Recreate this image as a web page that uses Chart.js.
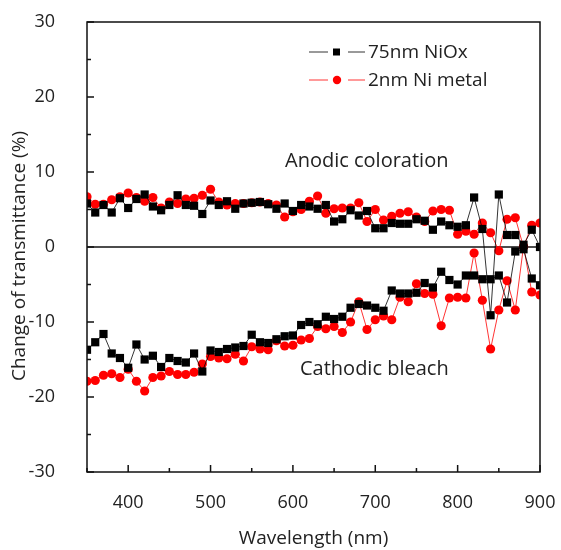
<!DOCTYPE html>
<html>
<head>
<meta charset="utf-8">
<script src="https://cdn.jsdelivr.net/npm/chart.js@4.4.1/dist/chart.umd.min.js"></script>
<style>
  html, body { margin: 0; padding: 0; background: #fff; }
  #wrap { width: 561px; height: 550px; }
</style>
</head>
<body>
<div id="wrap"><canvas id="chart"></canvas></div>
<script>
// wavelength (nm), one point every 10 nm
var wavelength = [350, 360, 370, 380, 390, 400, 410, 420, 430, 440,
                  450, 460, 470, 480, 490, 500, 510, 520, 530, 540,
                  550, 560, 570, 580, 590, 600, 610, 620, 630, 640,
                  650, 660, 670, 680, 690, 700, 710, 720, 730, 740,
                  750, 760, 770, 780, 790, 800, 810, 820, 830, 840,
                  850, 860, 870, 880, 890, 900];

// 75nm NiOx, change of transmittance (%)
var niox_anodic = [5.8, 4.6, 5.6, 4.6, 6.5, 5.2, 6.4, 7.0, 5.4, 4.9,
                   5.6, 6.9, 5.6, 5.5, 4.4, 6.2, 5.6, 6.1, 5.1, 5.8,
                   5.9, 6.0, 5.7, 5.1, 5.8, 4.8, 5.6, 5.4, 5.1, 5.6,
                   3.4, 3.7, 4.9, 4.2, 4.8, 2.5, 2.5, 3.2, 3.1, 3.1,
                   3.7, 3.5, 2.3, 3.4, 2.9, 2.7, 2.9, 6.6, 2.4, -9.1,
                   7.0, 1.6, 1.6, 0.3, 2.3, 0.0];
var niox_cathodic = [-13.7, -12.7, -11.6, -14.2, -14.8, -16.1, -13.0, -15.0, -14.5, -16.0,
                     -14.8, -15.2, -15.4, -14.2, -16.6, -13.8, -14.0, -13.6, -13.4, -13.2,
                     -11.7, -12.7, -12.8, -12.3, -11.9, -11.8, -10.4, -10.0, -10.3, -9.3,
                     -9.6, -9.3, -8.1, -7.6, -7.8, -8.1, -8.5, -5.8, -6.2, -6.2,
                     -6.1, -4.8, -5.4, -3.3, -4.4, -5.0, -3.8, -3.8, -4.3, -4.3,
                     -3.8, -7.4, -0.6, -0.3, -4.2, -5.1];

// 2nm Ni metal
var ni_anodic = [6.7, 5.7, 5.7, 6.3, 6.7, 7.2, 6.6, 6.1, 6.6, 5.2,
                 6.0, 5.8, 6.4, 6.5, 6.9, 7.7, 6.0, 5.6, 5.8, 5.8,
                 5.9, 6.0, 5.8, 5.6, 4.0, 4.7, 5.0, 6.1, 6.8, 4.5,
                 5.1, 5.2, 5.2, 5.9, 3.4, 5.0, 3.6, 4.1, 4.5, 4.7,
                 4.0, 3.4, 4.8, 5.0, 4.9, 1.7, 2.1, 1.7, 3.2, 1.9,
                 -0.5, 3.7, 3.9, 0.0, 2.9, 3.2];
var ni_cathodic = [-17.9, -17.8, -17.1, -16.9, -17.4, -16.3, -17.9, -19.2, -17.4, -17.2,
                   -16.6, -17.0, -17.0, -16.7, -15.6, -14.6, -14.8, -14.9, -14.3, -15.2,
                   -13.3, -13.6, -13.7, -12.5, -13.2, -13.1, -12.4, -12.2, -10.6, -10.9,
                   -10.6, -11.4, -10.0, -7.3, -11.0, -9.7, -9.2, -9.7, -6.7, -7.3,
                   -4.9, -6.2, -6.3, -10.5, -6.8, -6.7, -6.8, -0.8, -7.1, -13.6,
                   -8.4, -4.5, -8.4, 0.1, -6.0, -6.4];

var xTicks = [400, 500, 600, 700, 800, 900];
var yTicks = [-30, -20, -10, 0, 10, 20, 30];
var seriesNames = ['75nm NiOx', '2nm Ni metal'];
var notes = ['Anodic coloration', 'Cathodic bleach'];
var yTitle = 'Change of transmittance (%)';

var FONT = '"Open Sans", "Noto Sans", sans-serif';
var TXT = '#222';

function pts(ys) {
    return wavelength.map(function (x, i) { return {x: x, y: ys[i]}; });
}

function series(ys, color, style, radius) {
    return {
        data: pts(ys),
        showLine: true,
        borderColor: color,
        borderWidth: 0.8,
        backgroundColor: color,
        pointBackgroundColor: color,
        pointBorderColor: color,
        pointBorderWidth: 0,
        pointStyle: style,
        pointRadius: radius,
        pointHoverRadius: radius,
        tension: 0
    };
}

// box, inward ticks, zero line, legend, notes, y title
var decor = {
    id: 'decor',
    beforeDatasetsDraw: function (chart) {
        var c = chart.ctx, a = chart.chartArea, y = chart.scales.y;
        var y0 = y.getPixelForValue(0);
        c.save();
        c.strokeStyle = '#111';
        c.lineWidth = 1.5;
        c.beginPath();
        c.moveTo(a.left, y0);
        c.lineTo(a.right, y0);
        c.stroke();
        c.restore();
    },
    afterDraw: function (chart) {
        var c = chart.ctx, a = chart.chartArea;
        var xs = chart.scales.x, ys = chart.scales.y;
        c.save();
        c.strokeStyle = '#111';
        c.lineWidth = 1.5;
        c.strokeRect(a.left, a.top, a.right - a.left, a.bottom - a.top);
        c.beginPath();
        for (var v = -30; v <= 30; v += 5) {
            var py = ys.getPixelForValue(v);
            var len = (v % 10 === 0) ? 7 : 4;
            c.moveTo(a.left, py); c.lineTo(a.left + len, py);
        }
        for (var w = 350; w <= 900; w += 50) {
            var px = xs.getPixelForValue(w);
            var l2 = (w % 100 === 0) ? 7 : 4;
            c.moveTo(px, a.bottom); c.lineTo(px, a.bottom - l2);
        }
        c.stroke();

        // legend
        var rows = [
            {name: seriesNames[0], color: '#000', style: 'rect', y: 52},
            {name: seriesNames[1], color: '#f00', style: 'circle', y: 80}
        ];
        c.font = '19px ' + FONT;
        c.textBaseline = 'middle';
        c.textAlign = 'left';
        rows.forEach(function (r) {
            c.strokeStyle = r.color;
            c.lineWidth = 0.8;
            c.beginPath();
            c.moveTo(309, r.y); c.lineTo(328, r.y);
            c.moveTo(348, r.y); c.lineTo(365, r.y);
            c.stroke();
            c.fillStyle = r.color;
            if (r.style === 'rect') {
                c.fillRect(333, r.y - 3.5, 7, 7);
            } else {
                c.beginPath();
                c.arc(337, r.y, 4.2, 0, Math.PI * 2);
                c.fill();
            }
            c.fillStyle = TXT;
            c.fillText(r.name, 368, r.y + 1);
        });

        c.font = '20px ' + FONT;
        c.fillStyle = TXT;
        c.fillText(notes[0], 285, 161);
        c.fillText(notes[1], 300, 369);

        // y axis title
        c.font = '19px ' + FONT;
        c.textAlign = 'center';
        c.translate(20, 256);
        c.rotate(-Math.PI / 2);
        c.fillText(yTitle, 0, 0);
        c.restore();
    }
};

var ctx = document.getElementById('chart').getContext('2d');
var chart = new Chart(ctx, {
    type: 'scatter',
    data: {
        datasets: [
            series(niox_anodic, '#000', 'rect', 5.8),
            series(niox_cathodic, '#000', 'rect', 5.8),
            series(ni_anodic, '#f00', 'circle', 4.6),
            series(ni_cathodic, '#f00', 'circle', 4.6)
        ]
    },
    options: {
        responsive: true,
        maintainAspectRatio: false,
        animation: false,
        events: [],
        layout: {
            padding: {top: 22, right: 21, left: 0, bottom: 0}
        },
        plugins: {
            legend: {display: false},
            tooltip: {enabled: false}
        },
        scales: {
            x: {
                type: 'linear',
                min: 350,
                max: 900,
                grid: {display: false},
                border: {display: false},
                afterBuildTicks: function (s) {
                    s.ticks = xTicks.map(function (v) { return {value: v}; });
                },
                afterFit: function (s) {
                    s.height = 78;
                    s.paddingLeft = 0;
                    s.paddingRight = 0;
                },
                ticks: {
                    color: TXT,
                    padding: 12,
                    maxRotation: 0,
                    font: {family: FONT, size: 18}
                },
                title: {
                    display: true,
                    text: 'Wavelength (nm)',
                    color: TXT,
                    font: {family: FONT, size: 19},
                    padding: {top: 16, bottom: 0}
                }
            },
            y: {
                min: -30,
                max: 30,
                grid: {display: false},
                border: {display: false},
                afterBuildTicks: function (s) {
                    s.ticks = yTicks.map(function (v) { return {value: v}; });
                },
                afterFit: function (s) {
                    s.width = 87;
                    s.paddingTop = 0;
                    s.paddingBottom = 0;
                },
                ticks: {
                    color: TXT,
                    padding: 24,
                    font: {family: FONT, size: 18}
                }
            }
        }
    },
    plugins: [decor]
});
</script>
</body>
</html>
